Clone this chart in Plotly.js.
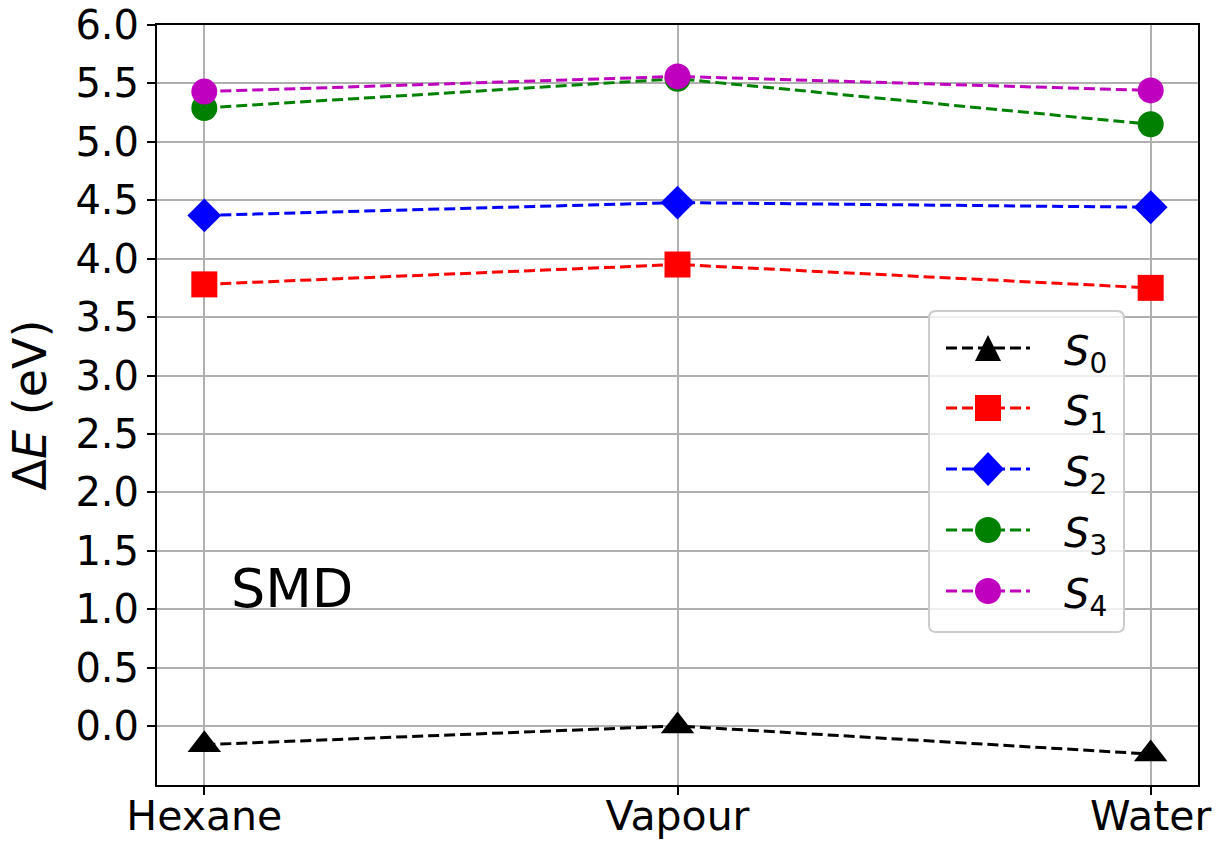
<!DOCTYPE html>
<html>
<head>
<meta charset="utf-8">
<script src="https://cdn.plot.ly/plotly-3.0.1.min.js"></script>
<style>html,body{margin:0;padding:0;background:#fff;}#chart{width:1221px;height:842px;}</style>
</head>
<body>
<div id="chart"></div>
<script>
const categories = ["Hexane", "Vapour", "Water"];
const seriesNames = ["<i>S</i><sub>0</sub>", "<i>S</i><sub>1</sub>", "<i>S</i><sub>2</sub>", "<i>S</i><sub>3</sub>", "<i>S</i><sub>4</sub>"];
const s0 = [-0.16, 0.00, -0.24];
const s1 = [3.78, 3.95, 3.75];
const s2 = [4.37, 4.48, 4.44];
const s3 = [5.29, 5.54, 5.15];
const s4 = [5.43, 5.56, 5.44];
const yTicks = [0, 0.5, 1, 1.5, 2, 2.5, 3, 3.5, 4, 4.5, 5, 5.5, 6];

const seriesValues = [s0, s1, s2, s3, s4];
const colors = ["#000000", "#ff0000", "#0000ff", "#008000", "#bf00bf"];
const symbols = ["triangle-up", "square", "diamond", "circle", "circle"];
const sizes = [29, 26, 26, 26, 26];
const DASH = "11px,5px";

const xIdx = categories.map((c, i) => i);
const traces = seriesValues.map((vals, k) => ({
  x: xIdx,
  y: vals,
  name: seriesNames[k],
  type: "scatter",
  mode: "lines+markers",
  showlegend: false,
  line: {color: colors[k], width: 3, dash: DASH},
  marker: {color: colors[k], symbol: symbols[k], size: sizes[k], line: {width: 0}}
}));

// ---- custom legend (pixel layout -> paper coords) ----
const M = {l: 157, r: 23, t: 25, b: 57};
const PW = 1221 - M.l - M.r, PH = 842 - M.t - M.b;
const px = v => (v - M.l) / PW;
const py = v => (842 - M.b - v) / PH;

const shapes = [];
const annotations = [];
// legend box with rounded corners
(function () {
  const x0 = 929, x1 = 1124, y0 = 311, y1 = 632, r = 7;
  const P = (x, y) => px(x) + "," + py(y);
  const path = "M" + P(x0 + r, y0) + " L" + P(x1 - r, y0) + " Q" + P(x1, y0) + " " + P(x1, y0 + r) +
    " L" + P(x1, y1 - r) + " Q" + P(x1, y1) + " " + P(x1 - r, y1) +
    " L" + P(x0 + r, y1) + " Q" + P(x0, y1) + " " + P(x0, y1 - r) +
    " L" + P(x0, y0 + r) + " Q" + P(x0, y0) + " " + P(x0 + r, y0) + " Z";
  shapes.push({type: "path", xref: "paper", yref: "paper", path: path,
    fillcolor: "rgba(255,255,255,0.8)", line: {color: "#cccccc", width: 2}, layer: "above"});
})();

const legX0 = 946, legX1 = 1030, legMx = 988, legTx = 1062;
const legY = [348, 408, 469, 530, 591];
seriesNames.forEach((name, k) => {
  const yc = legY[k];
  const col = colors[k];
  shapes.push({type: "line", xref: "paper", yref: "paper",
    x0: px(legX0), x1: px(legX1), y0: py(yc), y1: py(yc),
    line: {color: col, width: 3, dash: DASH}, layer: "above"});
  const sym = symbols[k];
  const base = {xref: "paper", yref: "paper", fillcolor: col, line: {width: 0}, layer: "above"};
  if (sym === "circle") {
    shapes.push(Object.assign({type: "circle", x0: px(legMx - 13), x1: px(legMx + 13), y0: py(yc + 13), y1: py(yc - 13)}, base));
  } else if (sym === "square") {
    shapes.push(Object.assign({type: "rect", x0: px(legMx - 13), x1: px(legMx + 13), y0: py(yc + 13), y1: py(yc - 13)}, base));
  } else if (sym === "diamond") {
    const p = "M" + px(legMx) + "," + py(yc - 17) + " L" + px(legMx + 16) + "," + py(yc) +
      " L" + px(legMx) + "," + py(yc + 17) + " L" + px(legMx - 16) + "," + py(yc) + " Z";
    shapes.push(Object.assign({type: "path", path: p}, base));
  } else {
    const p = "M" + px(legMx) + "," + py(yc - 13) + " L" + px(legMx + 13) + "," + py(yc + 13) +
      " L" + px(legMx - 13) + "," + py(yc + 13) + " Z";
    shapes.push(Object.assign({type: "path", path: p}, base));
  }
  annotations.push({xref: "paper", yref: "paper", x: px(legTx), y: py(yc + 6),
    xanchor: "left", yanchor: "middle", showarrow: false, text: name,
    font: {family: "DejaVu Sans, sans-serif", size: 40, color: "#000"}});
});

annotations.push({
  xref: "paper", yref: "paper", x: 0.069, y: 0.259,
  xanchor: "left", yanchor: "middle",
  text: "SMD", showarrow: false,
  font: {family: "DejaVu Sans, sans-serif", size: 54, color: "#000"}
});

const font = "DejaVu Sans, sans-serif";
const layout = {
  width: 1221, height: 842,
  margin: M,
  paper_bgcolor: "#ffffff", plot_bgcolor: "#ffffff",
  font: {family: font, size: 40, color: "#000"},
  showlegend: false,
  xaxis: {
    range: [-0.1, 2.1],
    tickvals: xIdx, ticktext: categories,
    showgrid: true, gridcolor: "#b0b0b0", gridwidth: 2,
    zeroline: false,
    showline: true, linecolor: "#000", linewidth: 2, mirror: true,
    ticks: "outside", ticklen: 8, tickwidth: 2, tickcolor: "#000",
    tickfont: {family: font, size: 41, color: "#000"},
    ticklabelstandoff: -14,
    automargin: false
  },
  yaxis: {
    range: [-0.505, 6.0],
    tickvals: yTicks, ticktext: yTicks.map(v => v.toFixed(1)),
    showgrid: true, gridcolor: "#b0b0b0", gridwidth: 2,
    zeroline: false,
    showline: true, linecolor: "#000", linewidth: 2, mirror: true,
    ticks: "outside", ticklen: 8, tickwidth: 2, tickcolor: "#000",
    tickfont: {family: font, size: 40, color: "#000"},
    title: {text: "Δ<i>E</i> (eV)", font: {family: font, size: 46, color: "#000"}, standoff: 14},
    automargin: false
  },
  shapes: shapes,
  annotations: annotations
};

Plotly.newPlot("chart", traces, layout, {displayModeBar: false, staticPlot: true});
</script>
</body>
</html>
